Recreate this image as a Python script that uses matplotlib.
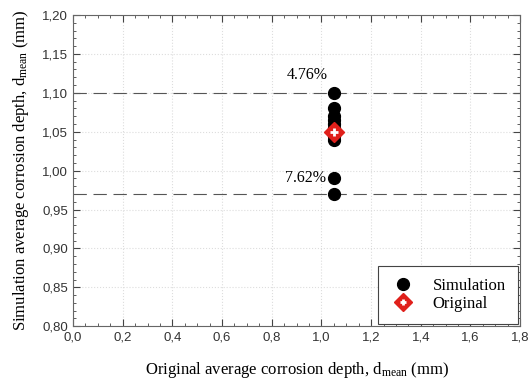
import matplotlib.pyplot as plt
from matplotlib.lines import Line2D
from matplotlib.ticker import MultipleLocator

# data
sim_x = [1.05] * 11
sim_y = [1.10, 1.08, 1.07, 1.065, 1.06, 1.055, 1.05, 1.045, 1.04, 0.99, 0.97]
orig_x = [1.05]
orig_y = [1.05]
bounds = [1.10, 0.97]
bound_labels = ['4.76%', '7.62%']

plt.rcParams['mathtext.fontset'] = 'custom'
plt.rcParams['mathtext.rm'] = 'Liberation Serif'
plt.rcParams['mathtext.it'] = 'Liberation Serif'
serif = 'Liberation Serif'

fig = plt.figure(figsize=(5.31, 3.86), dpi=100)
ax = fig.add_axes([0.1375, 0.155, 0.842, 0.806])

ax.grid(True, which='major', color='#dddddd', linestyle=':', linewidth=0.8)
for b in bounds:
    ax.axhline(b, color='#555555', linewidth=0.8, dashes=(12, 6), zorder=2)

ax.plot(sim_x, sim_y, 'o', color='black', markersize=8.5, zorder=3, linestyle='none')
ax.plot(orig_x, orig_y, 'D', color='#e0201b', markersize=10, zorder=4, linestyle='none')
ax.plot(orig_x, orig_y, '+', color='white', markersize=6, markeredgewidth=2, zorder=5, linestyle='none')

ax.text(1.025, bounds[0] + 0.012, bound_labels[0], ha='right', va='bottom', fontsize=11.5, family=serif)
ax.text(1.02, sim_y[9], bound_labels[1], ha='right', va='center', fontsize=11.5, family=serif)

ax.set_xlim(0, 1.8)
ax.set_ylim(0.8, 1.2)
ax.xaxis.set_major_locator(MultipleLocator(0.2))
ax.xaxis.set_minor_locator(MultipleLocator(0.05))
ax.yaxis.set_major_locator(MultipleLocator(0.05))
ax.yaxis.set_minor_locator(MultipleLocator(0.01))
ax.set_xticklabels([('%.1f' % v).replace('.', ',') for v in ax.get_xticks()])
ax.set_yticklabels([('%.2f' % v).replace('.', ',') for v in ax.get_yticks()])
ax.tick_params(which='both', direction='in', top=True, right=True, labelsize=9.5, color='#444444')
ax.tick_params(which='major', length=5)
ax.tick_params(which='minor', length=2.5)
for lab in ax.get_xticklabels() + ax.get_yticklabels():
    lab.set_family('Liberation Sans')
    lab.set_color('#333333')
for s in ax.spines.values():
    s.set_color('#666666')
    s.set_linewidth(0.8)

ax.set_xlabel(r'Original average corrosion depth, d$_{\mathrm{mean}}$ (mm)', fontsize=12, family=serif, labelpad=12)
ax.set_ylabel(r'Simulation average corrosion depth, d$_{\mathrm{mean}}$ (mm)', fontsize=12, family=serif, labelpad=8)

h1 = Line2D([], [], marker='o', color='black', markersize=8.5, linestyle='none')
h2a = Line2D([], [], marker='D', color='#e0201b', markersize=9, linestyle='none')
h2b = Line2D([], [], marker='+', color='white', markersize=5, markeredgewidth=2, linestyle='none')
leg = ax.legend([h1, (h2a, h2b)], ['Simulation', 'Original'], loc='lower right',
                prop={'family': serif, 'size': 12}, fancybox=False, edgecolor='#444444',
                framealpha=1, borderaxespad=0.15, handletextpad=1.0, handlelength=1.6,
                borderpad=0.7, labelspacing=0.15)
leg.get_frame().set_linewidth(0.8)

fig.savefig('out.png', dpi=100)
